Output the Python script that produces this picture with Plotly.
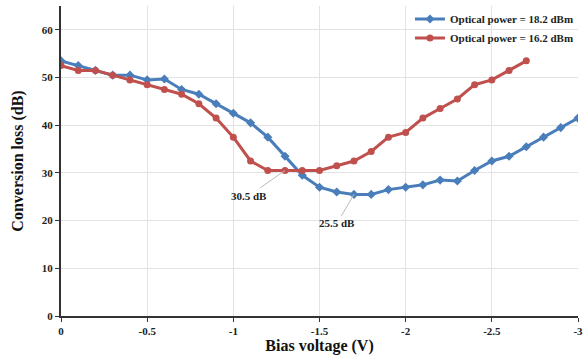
import plotly.graph_objects as go

bias = [0, -0.1, -0.2, -0.3, -0.4, -0.5, -0.6, -0.7, -0.8, -0.9, -1.0, -1.1, -1.2, -1.3, -1.4, -1.5,
        -1.6, -1.7, -1.8, -1.9, -2.0, -2.1, -2.2, -2.3, -2.4, -2.5, -2.6, -2.7, -2.8, -2.9, -3.0]
loss_182 = [53.5, 52.5, 51.5, 50.5, 50.5, 49.5, 49.7, 47.5, 46.5, 44.5, 42.5, 40.5, 37.5, 33.5, 29.5, 27,
            26, 25.5, 25.5, 26.5, 27, 27.5, 28.5, 28.3, 30.5, 32.5, 33.5, 35.5, 37.5, 39.5, 41.5]
loss_162 = [52.5, 51.5, 51.5, 50.5, 49.5, 48.5, 47.5, 46.5, 44.5, 41.5, 37.5, 32.5, 30.5, 30.5, 30.5, 30.5,
            31.5, 32.5, 34.5, 37.5, 38.5, 41.5, 43.5, 45.5, 48.5, 49.5, 51.5, 53.5]
names = ["Optical power = 18.2 dBm", "Optical power = 16.2 dBm"]
x_ticks = [0, -0.5, -1, -1.5, -2, -2.5, -3]
x_tick_text = ["0", "-0.5", "-1", "-1.5", "-2", "-2.5", "-3"]

FONT = "Liberation Serif"
blue = "#4A7EBB"
red = "#C0504D"

fig = go.Figure()
fig.add_trace(go.Scatter(x=bias, y=loss_182, name="<b>" + names[0] + "</b>", mode="lines+markers",
                         line=dict(color=blue, width=3),
                         marker=dict(symbol="diamond", size=7, color=blue)))
fig.add_trace(go.Scatter(x=bias[:len(loss_162)], y=loss_162, name="<b>" + names[1] + "</b>", mode="lines+markers",
                         line=dict(color=red, width=3),
                         marker=dict(symbol="circle", size=7, color=red)))

fig.add_annotation(x=-1.3, y=30.5, text="<b>30.5 dB</b>", showarrow=True, arrowhead=0,
                   arrowcolor="#bbbbbb", arrowwidth=1, ax=-36, ay=25,
                   font=dict(family=FONT, size=11, color="#222"))
fig.add_annotation(x=-1.7, y=25.5, text="<b>25.5 dB</b>", showarrow=True, arrowhead=0,
                   arrowcolor="#bbbbbb", arrowwidth=1, ax=-17, ay=29,
                   font=dict(family=FONT, size=11, color="#222"))

fig.update_layout(
    width=587, height=359,
    margin=dict(l=61, r=4, t=5, b=43),
    plot_bgcolor="white", paper_bgcolor="white",
    font=dict(family=FONT, size=11, color="#222"),
    showlegend=True,
    legend=dict(x=0.675, y=1.005, xanchor="left", yanchor="top",
                font=dict(family=FONT, size=11, color="#222"),
                bgcolor="rgba(0,0,0,0)", tracegroupgap=2, itemwidth=30),
    xaxis=dict(range=[0, -3], tickvals=x_ticks, ticktext=x_tick_text,
               showgrid=True, gridcolor="#e3e3e3", gridwidth=1,
               showline=True, linecolor="#333", linewidth=2,
               ticks="outside", ticklen=4, tickcolor="#333",
               ticklabeloverflow="allow",
               tickfont=dict(family=FONT, size=11, color="#222", weight="bold"),
               title=dict(text="<b>Bias voltage (V)</b>", font=dict(family=FONT, size=16, color="#111"),
                          standoff=4),
               zeroline=False),
    yaxis=dict(range=[0, 65], tickvals=[0, 10, 20, 30, 40, 50, 60],
               showgrid=True, gridcolor="#e3e3e3", gridwidth=1,
               showline=True, linecolor="#333", linewidth=2,
               ticks="outside", ticklen=4, tickcolor="#333",
               tickfont=dict(family=FONT, size=11, color="#222", weight="bold"),
               title=dict(text="<b>Conversion loss (dB)</b>", font=dict(family=FONT, size=16, color="#111"),
                          standoff=14),
               zeroline=False),
)

fig.write_html("out.html")
